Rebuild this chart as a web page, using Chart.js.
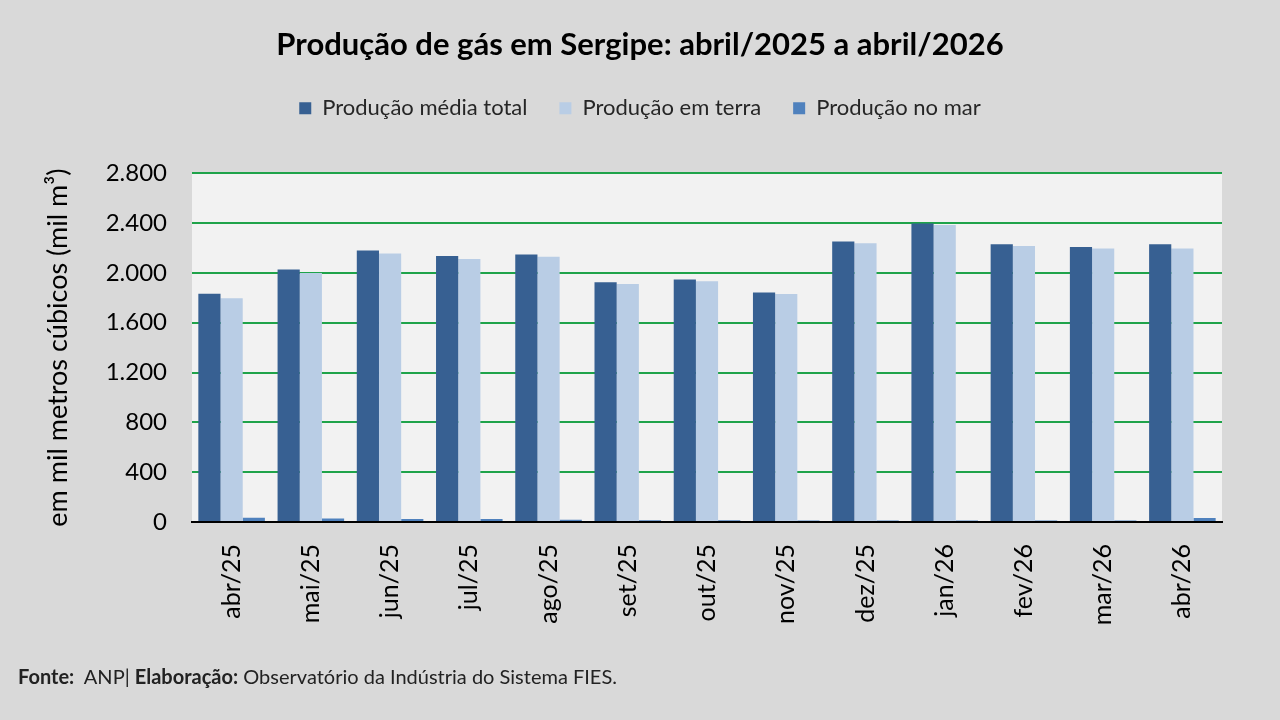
<!DOCTYPE html>
<html lang="pt-BR">
<head>
<meta charset="utf-8">
<title>Produção de gás em Sergipe</title>
<script src="https://cdn.jsdelivr.net/npm/chart.js@4.4.1/dist/chart.umd.min.js"></script>
<style>
    body { margin: 0; background: #d9d9d9; }
    #wrap { position: relative; width: 1280px; height: 720px; }
    #footer {
        position: absolute;
        left: 18px;
        top: 664px;
        font-family: Lato, "Open Sans", sans-serif;
        font-size: 20px;
        color: #222;
    }
</style>
</head>
<body>
<div id="wrap">
    <canvas id="gasChart" width="1280" height="720"></canvas>
    <div id="footer"><b>Fonte:</b>&nbsp; ANP| <b>Elaboração:</b> Observatório da Indústria do Sistema FIES.</div>
</div>

<script>
// Dados (mil m³/dia)
const months = ['abr/25', 'mai/25', 'jun/25', 'jul/25', 'ago/25', 'set/25', 'out/25',
                'nov/25', 'dez/25', 'jan/26', 'fev/26', 'mar/26', 'abr/26'];
const totalProd = [1832, 2027, 2179, 2136, 2147, 1925, 1947, 1843, 2251, 2397, 2229, 2208, 2229];
const landProd  = [1797, 1999, 2155, 2112, 2129, 1910, 1933, 1831, 2238, 2385, 2216, 2196, 2196];
const seaProd   = [35, 28, 24, 24, 18, 15, 14, 12, 13, 12, 13, 12, 33];
const yTickLabels = ['0', '400', '800', '1.200', '1.600', '2.000', '2.400', '2.800'];

const FONT = 'Lato, "Open Sans", sans-serif';

document.addEventListener('DOMContentLoaded', function() {
    // fundo da área do gráfico
    const plotBackground = {
        id: 'plotBackground',
        beforeDraw(chart) {
            const { ctx, chartArea } = chart;
            ctx.save();
            ctx.fillStyle = '#f2f2f2';
            ctx.fillRect(chartArea.left, chartArea.top,
                chartArea.right - chartArea.left, chartArea.bottom - chartArea.top);
            ctx.restore();
        }
    };

    // espaço extra abaixo da legenda
    const legendGap = {
        id: 'legendGap',
        beforeInit(chart) {
            const originalFit = chart.legend.fit;
            chart.legend.fit = function fit() {
                originalFit.bind(chart.legend)();
                this.height += 44;
            };
        }
    };

    new Chart(document.getElementById('gasChart'), {
        type: 'bar',
        data: {
            labels: months,
            datasets: [
                { label: 'Produção média total', data: totalProd, backgroundColor: '#376092' },
                { label: 'Produção em terra', data: landProd, backgroundColor: '#b9cde5' },
                { label: 'Produção no mar', data: seaProd, backgroundColor: '#4f81bd' }
            ]
        },
        options: {
            responsive: false,
            animation: false,
            layout: { padding: 0 },
            datasets: {
                bar: { categoryPercentage: 0.84, barPercentage: 1.0 }
            },
            plugins: {
                title: {
                    display: true,
                    text: 'Produção de gás em Sergipe: abril/2025 a abril/2026',
                    color: '#000',
                    font: { family: FONT, size: 31, weight: 'bold' },
                    padding: { top: 26, bottom: 2 }
                },
                legend: {
                    labels: {
                        color: '#262626',
                        font: { family: FONT, size: 22 },
                        boxWidth: 12,
                        boxHeight: 12,
                        padding: 32
                    }
                },
                tooltip: { enabled: false }
            },
            scales: {
                x: {
                    grid: { display: false, drawTicks: false },
                    border: { display: true, color: '#000', width: 2 },
                    ticks: {
                        color: '#000',
                        font: { family: FONT, size: 25 },
                        minRotation: 90,
                        maxRotation: 90,
                        padding: 22
                    },
                    afterFit(scale) { scale.height = 198; }
                },
                y: {
                    min: 0,
                    max: 2800,
                    grid: { color: '#1fa34a', lineWidth: 2, drawTicks: false },
                    border: { display: false },
                    ticks: {
                        stepSize: 400,
                        color: '#000',
                        font: { family: FONT, size: 24 },
                        padding: 25,
                        callback: function(value, index) { return yTickLabels[index]; }
                    },
                    title: {
                        display: true,
                        text: 'em mil metros cúbicos (mil m³)',
                        color: '#000',
                        font: { family: FONT, size: 27 },
                        padding: { top: 42, bottom: 0 }
                    },
                    afterFit(scale) { scale.width = 192; }
                },
                // margem à direita, mantém o título centrado na página
                yRight: {
                    position: 'right',
                    grid: { display: false, drawTicks: false },
                    border: { display: false },
                    ticks: { display: false },
                    afterFit(scale) { scale.width = 58; }
                }
            }
        },
        plugins: [plotBackground, legendGap]
    });
});
</script>
</body>
</html>
